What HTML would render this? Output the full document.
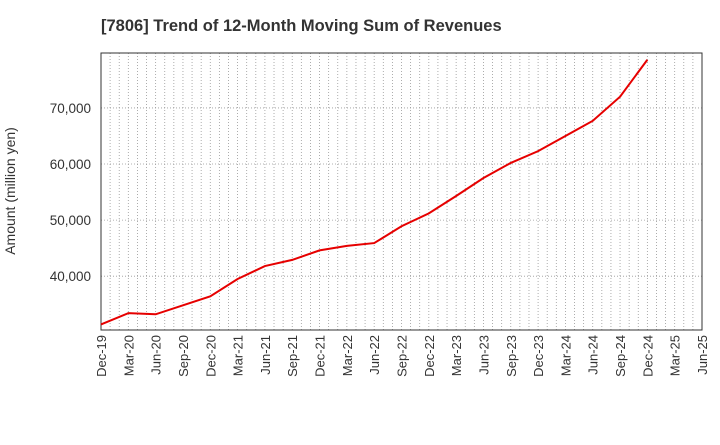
<!DOCTYPE html>
<html><head><meta charset="utf-8"><style>
body{margin:0;background:#fff;font-family:"Liberation Sans",sans-serif;}
svg text{font-family:"Liberation Sans",sans-serif;}
</style></head><body>
<svg id="chart" width="720" height="440">
<text x="101" y="31" text-anchor="start" font-size="16.5" font-weight="bold" fill="#333">[7806]  Trend of 12-Month Moving Sum of Revenues</text>
<text transform="translate(15,191) rotate(-90)" text-anchor="middle" font-size="14" fill="#333">Amount (million yen)</text>
<g id="grid"></g><g id="axes"></g><g id="series"></g>
</svg>
<script>
const categories=["Dec-19","Mar-20","Jun-20","Sep-20","Dec-20","Mar-21","Jun-21","Sep-21","Dec-21","Mar-22","Jun-22","Sep-22","Dec-22","Mar-23","Jun-23","Sep-23","Dec-23","Mar-24","Jun-24","Sep-24","Dec-24","Mar-25","Jun-25"];
const revenues=[31400,33400,33200,34800,36400,39500,41800,42900,44600,45400,45900,48900,51200,54300,57500,60200,62300,65000,67700,72000,78600];
const yTicks=[40000,50000,60000,70000];
const yTickLabels=["40,000","50,000","60,000","70,000"];
const L=101,R=702,T=53,B=330,yMin=30400,yMax=79800;
const ns="http://www.w3.org/2000/svg";
const xs=i=>L+(R-L)*i/(categories.length-1);
const ys=v=>B-(v-yMin)/(yMax-yMin)*(B-T);
function mk(p,tag,attrs){const e=document.createElementNS(ns,tag);for(const k in attrs)e.setAttribute(k,attrs[k]);p.appendChild(e);return e;}
const grid=document.getElementById('grid'),axes=document.getElementById('axes'),ser=document.getElementById('series');
const months=(categories.length-1)*3;
for(let m=1;m<months;m++){const x=L+(R-L)*m/months;
const g=mk(grid,'line',{x1:x,x2:x,y1:T,y2:B,stroke:'#999','stroke-width':0.8,'stroke-dasharray':'1,2'});

}
yTicks.forEach((v,i)=>{const y=ys(v);
const g=mk(grid,'line',{x1:L,x2:R,y1:y,y2:y,stroke:'#999','stroke-width':0.8,'stroke-dasharray':'1,2'});


const t=mk(axes,'text',{x:L-10,y:y+5,'text-anchor':'end','font-size':13.5,fill:'#333'});t.textContent=yTickLabels[i];

});
const frame=mk(axes,'rect',{x:L,y:T,width:R-L,height:B-T,fill:'none',stroke:'#333','stroke-width':1});


categories.forEach((c,i)=>{const x=xs(i);
const t=mk(axes,'text',{transform:`translate(${x+5},${B+5}) rotate(-90)`,'text-anchor':'end','font-size':13,fill:'#333'});t.textContent=c;

});
const pts=revenues.map((v,i)=>xs(i)+','+ys(v)).join(' ');
const line=mk(ser,'polyline',{points:pts,fill:'none',stroke:'#e60000','stroke-width':2});


</script>
</body></html>
